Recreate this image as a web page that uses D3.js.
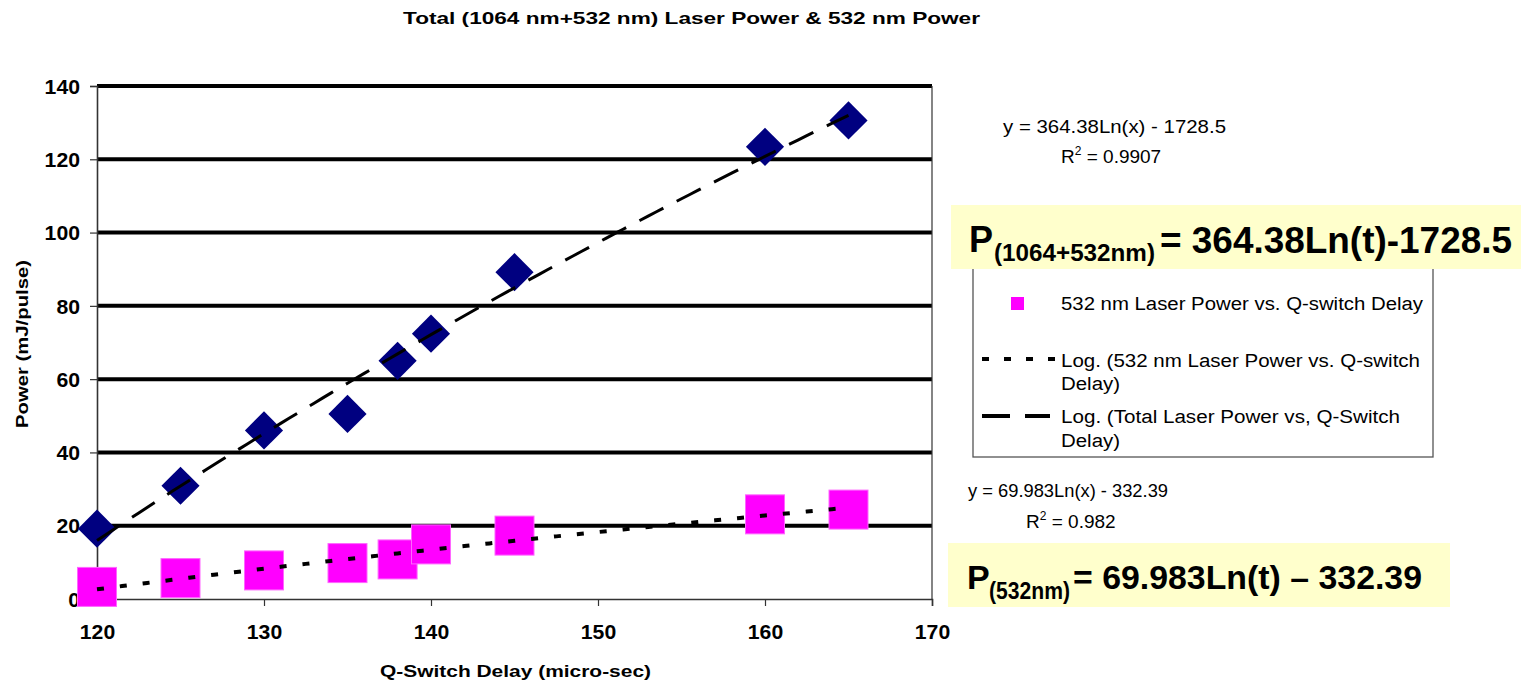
<!DOCTYPE html>
<html>
<head>
<meta charset="utf-8">
<script src="https://cdn.jsdelivr.net/npm/d3@7"></script>
<style>
  html, body { margin: 0; padding: 0; background: #fff; }
  svg { display: block; font-family: "Liberation Sans", Arial, sans-serif; }
</style>
</head>
<body>
<svg id="chart" width="1521" height="682"></svg>
<script>
// Q-switch delay (micro-sec) and measured pulse energies (mJ/pulse)
const delay = [120, 125, 130, 135, 138, 140, 145, 160, 165];
const totalPower = [19.2, 30.9, 46.0, 50.5, 65.0, 72.4, 89.2, 123.4, 130.6];
const greenPower = [3.3, 5.7, 7.8, 9.8, 10.8, 14.9, 17.3, 23.1, 24.4];

// Logarithmic fits y = a*ln(x) + b
const fitTotal = { a: 364.38, b: -1728.5, r2: "0.9907" };
const fitGreen = { a: 69.983, b: -332.39, r2: "0.982" };

const xTicks = [120, 130, 140, 150, 160, 170];
const yTicks = [0, 20, 40, 60, 80, 100, 120, 140];

const svg = d3.select("#chart");

const x = d3.scaleLinear().domain([120, 170]).range([97, 932]);
const y = d3.scaleLinear().domain([0, 140]).range([599, 86]);

// Horizontal gridlines
svg.append("g").selectAll("line")
  .data(yTicks.filter(v => v > 0))
  .join("line")
  .attr("x1", x(120)).attr("x2", x(170))
  .attr("y1", d => y(d)).attr("y2", d => y(d))
  .attr("stroke", "#000").attr("stroke-width", 4);

// Right border of the plot area
svg.append("line")
  .attr("x1", x(170)).attr("x2", x(170))
  .attr("y1", y(140)).attr("y2", y(0))
  .attr("stroke", "#333").attr("stroke-width", 1.2);

// Axes
const yAxis = svg.append("g")
  .attr("transform", `translate(${x(120)},0)`)
  .call(d3.axisLeft(y).tickValues(yTicks).tickSize(7).tickFormat(d3.format("d")));
const xAxis = svg.append("g")
  .attr("transform", `translate(0,${y(0)})`)
  .call(d3.axisBottom(x).tickValues(xTicks).tickSize(7).tickFormat(d3.format("d")));

[yAxis, xAxis].forEach(g => {
  g.attr("font-size", 20).attr("font-weight", "bold")
   .attr("font-family", "Liberation Sans, Arial, sans-serif");
  g.select(".domain").attr("stroke", "#333").attr("stroke-width", 1.6);
  g.selectAll(".tick line").attr("stroke", "#333").attr("stroke-width", 1.2);
  g.selectAll(".tick text")
    .attr("fill", "#000")
    .attr("lengthAdjust", "spacingAndGlyphs")
    .attr("textLength", d => String(d).length * 11.8);
});
yAxis.selectAll(".tick text").attr("x", -17).attr("dy", "0.36em");
xAxis.selectAll(".tick text").attr("y", 40).attr("dy", "0");

// Data markers
const pts = delay.map((d, i) => ({ t: d, total: totalPower[i], green: greenPower[i] }));

svg.append("g").selectAll("path")
  .data(pts)
  .join("path")
  .attr("d", d3.symbol(d3.symbolSquare, 27 * 27))
  .attr("transform", d => `translate(${x(d.t)},${y(d.total)}) rotate(45)`)
  .attr("fill", "#000080");

svg.append("g").selectAll("rect")
  .data(pts)
  .join("rect")
  .attr("x", d => x(d.t) - 19.5).attr("y", d => y(d.green) - 19.5)
  .attr("width", 39).attr("height", 39)
  .attr("fill", "#FF00FF")
  .attr("stroke", "#FF66FF").attr("stroke-width", 1);

// Trend lines from the fitted coefficients
const fitLine = f => d3.line()
  .x(t => x(t))
  .y(t => y(f.a * Math.log(t) + f.b));
const tSamples = d3.range(120, 165.01, 0.5);

svg.append("path")
  .attr("d", fitLine(fitGreen)(tSamples))
  .attr("fill", "none").attr("stroke", "#000")
  .attr("stroke-width", 4).attr("stroke-dasharray", "7,16");

svg.append("path")
  .attr("d", fitLine(fitTotal)(tSamples))
  .attr("fill", "none").attr("stroke", "#000")
  .attr("stroke-width", 3).attr("stroke-dasharray", "27,15");

// Text helper
function label(txt, xPos, yPos, size, weight, width, anchor) {
  const t = svg.append("text")
    .attr("x", xPos).attr("y", yPos)
    .style("font-size", size + "px")
    .style("font-weight", weight || "normal")
    .attr("text-anchor", anchor || "start")
    .text(txt);
  if (width) t.attr("textLength", width).attr("lengthAdjust", "spacingAndGlyphs");
  return t;
}

// Title and axis titles
label("Total (1064 nm+532 nm) Laser Power & 532 nm Power", 403, 24, 17, "bold", 577);
label("Q-Switch Delay (micro-sec)", 380, 677, 17, "bold", 271);
svg.append("text")
  .attr("transform", "translate(28,344) rotate(-90)")
  .attr("text-anchor", "middle")
  .style("font-size", "17px").style("font-weight", "bold")
  .attr("textLength", 168).attr("lengthAdjust", "spacingAndGlyphs")
  .text("Power (mJ/pulse)");

// Legend
svg.append("rect")
  .attr("x", 973).attr("y", 262).attr("width", 460).attr("height", 195)
  .attr("fill", "#fff").attr("stroke", "#555").attr("stroke-width", 1.3);
svg.append("rect")
  .attr("x", 1011).attr("y", 297).attr("width", 13).attr("height", 13)
  .attr("fill", "#FF00FF");
label("532 nm Laser Power vs. Q-switch Delay", 1061, 310, 18, "normal", 362);
svg.append("line")
  .attr("x1", 982).attr("x2", 1057).attr("y1", 359).attr("y2", 359)
  .attr("stroke", "#000").attr("stroke-width", 4).attr("stroke-dasharray", "7,15");
label("Log. (532 nm Laser Power vs. Q-switch", 1061, 367, 18, "normal", 359);
label("Delay)", 1061, 390, 18, "normal", 59);
svg.append("line")
  .attr("x1", 982).attr("x2", 1050).attr("y1", 416).attr("y2", 416)
  .attr("stroke", "#000").attr("stroke-width", 4).attr("stroke-dasharray", "28,15");
label("Log. (Total Laser Power vs, Q-Switch", 1061, 423, 18, "normal", 339);
label("Delay)", 1061, 447, 18, "normal", 59);

// Fit equations
function rSquared(xPos, yPos, val, width) {
  const t = svg.append("text").attr("x", xPos).attr("y", yPos)
    .style("font-size", "19px");
  t.append("tspan").text("R");
  t.append("tspan").attr("dy", -8).style("font-size", "12px").text("2");
  t.append("tspan").attr("dy", 8).text(" = " + val);
  return t;
}
label("y = 364.38Ln(x) - 1728.5", 1003, 133, 19, "normal", 223);
rSquared(1061, 163, fitTotal.r2);
label("y = 69.983Ln(x) - 332.39", 968, 497, 19, "normal", 200);
rSquared(1026, 528, fitGreen.r2);

// Highlighted formulas
svg.append("rect").attr("x", 951).attr("y", 205).attr("width", 570).attr("height", 64)
  .attr("fill", "#FFFFCC");
svg.append("rect").attr("x", 948).attr("y", 543).attr("width", 502).attr("height", 64)
  .attr("fill", "#FFFFCC");

label("P", 969, 252, 36, "bold");
label("(1064+532nm)", 994, 261, 23, "bold", 161);
label("= 364.38Ln(t)-1728.5", 1160, 253, 37, "bold", 352);

label("P", 967, 589, 34, "bold");
label("(532nm)", 989, 599, 23, "bold", 81);
label("= 69.983Ln(t) \u2013 332.39", 1073, 589, 34, "bold", 349);
</script>
</body>
</html>
